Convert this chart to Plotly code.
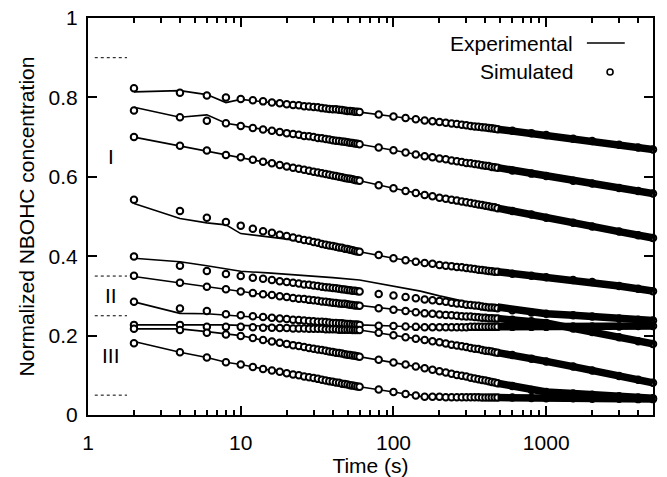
import plotly.graph_objects as go

# ---------------- data ----------------
t_sim = [2, 4, 6, 8, 10, 12, 14, 16, 18, 20, 22, 24, 26, 28, 30, 32, 34, 36, 38, 40,
         42, 44, 46, 48, 50, 52, 54, 56, 58, 60,
         80, 100, 120, 140, 160, 180, 200, 220, 240, 260, 280, 300, 320, 340, 360, 380,
         400, 420, 440, 460, 480,
         600, 800, 1000, 1500, 2000, 3000, 4000, 5000]

sim_A = [.823,.812,.805,.800,.796,.793,.790,.787,.785,.783,.781,.780,.778,.777,.776,.775,.773,.772,.771,.770,
         .770,.769,.768,.767,.766,.766,.765,.764,.764,.763,
         .757,.752,.748,.745,.742,.740,.738,.736,.734,.733,.731,.730,.728,.727,.726,.725,.724,.723,.722,.721,.720,
         .716,.710,.705,.696,.690,.681,.674,.669]
sim_B = [.767,.750,.741,.735,.728,.723,.719,.716,.713,.710,.708,.706,.703,.702,.700,.698,.697,.695,.694,.692,
         .691,.690,.689,.688,.687,.686,.685,.684,.683,.682,
         .674,.667,.661,.656,.652,.649,.646,.644,.641,.639,.637,.635,.634,.632,.631,.629,.628,.627,.625,.624,.623,
         .616,.608,.602,.590,.583,.572,.564,.558]
sim_C = [.700,.678,.666,.655,.649,.643,.638,.634,.630,.626,.623,.620,.618,.615,.613,.611,.609,.607,.605,.603,
         .602,.600,.599,.597,.596,.595,.594,.592,.591,.590,
         .579,.571,.564,.559,.554,.551,.547,.545,.542,.540,.538,.536,.534,.532,.530,.529,.527,.526,.524,.523,.521,
         .514,.505,.497,.484,.475,.462,.453,.446]
sim_D = [.542,.514,.497,.486,.477,.469,.463,.459,.454,.451,.447,.444,.441,.439,.436,.434,.431,.429,.427,.426,
         .424,.422,.421,.419,.418,.416,.415,.413,.412,.411,
         .403,.395,.390,.386,.383,.381,.378,.376,.375,.373,.372,.370,.369,.368,.366,.365,.364,.363,.362,.361,.361,
         .356,.351,.347,.340,.335,.325,.318,.312]
sim_E = [.399,.376,.363,.355,.350,.346,.343,.340,.337,.335,.333,.331,.329,.328,.326,.325,.323,.322,.321,.320,
         .319,.318,.317,.316,.315,.314,.313,.313,.312,.311,
         .305,.301,.297,.294,.291,.289,.287,.285,.283,.281,.280,.278,.277,.276,.275,.273,.272,.271,.271,.270,.269,
         .264,.258,.255,.251,.248,.243,.240,.238]
sim_F = [.351,.333,.323,.317,.311,.307,.304,.302,.299,.297,.295,.293,.292,.290,.289,.288,.286,.285,.284,.283,
         .282,.281,.280,.280,.279,.278,.277,.276,.276,.275,
         .269,.265,.262,.259,.256,.255,.253,.252,.251,.250,.249,.248,.248,.247,.246,.245,.245,.244,.244,.243,.243,
         .240,.236,.232,.218,.209,.196,.186,.179]
sim_G = [.285,.268,.262,.254,.251,.249,.247,.245,.243,.242,.240,.239,.238,.237,.236,.235,.235,.234,.233,.232,
         .232,.231,.231,.230,.229,.229,.228,.228,.228,.227,
         .225,.224,.223,.222,.221,.221,.221,.221,.221,.221,.221,.221,.222,.222,.222,.222,.222,.222,.222,.222,.222,
         .222,.222,.222,.223,.223,.223,.224,.224]
sim_H = [.227,.227,.222,.222,.222,.221,.220,.220,.219,.219,.218,.218,.218,.217,.217,.217,.217,.216,.216,.216,
         .216,.215,.215,.215,.215,.215,.214,.214,.214,.214,
         .207,.201,.196,.192,.189,.186,.183,.180,.177,.175,.173,.171,.169,.167,.166,.164,.162,.161,.160,.158,.157,
         .151,.142,.135,.122,.112,.098,.089,.081]
sim_I = [.217,.214,.207,.203,.199,.194,.189,.185,.182,.179,.176,.174,.171,.169,.167,.165,.164,.162,.160,.159,
         .157,.156,.155,.153,.152,.151,.150,.149,.148,.147,
         .139,.132,.127,.122,.118,.114,.110,.107,.104,.101,.099,.097,.094,.092,.090,.088,.087,.085,.083,.082,.080,
         .073,.063,.058,.054,.051,.047,.044,.042]
sim_J = [.181,.158,.145,.133,.127,.121,.116,.112,.109,.105,.102,.100,.097,.095,.093,.091,.089,.087,.085,.084,
         .082,.081,.079,.078,.077,.075,.074,.073,.072,.071,
         .064,.058,.053,.049,.046,.046,.046,.045,.045,.045,.045,.045,.045,.045,.045,.044,.044,.044,.044,.044,.044,
         .044,.043,.042,.042,.041,.041,.040,.040]

t_exp = [2, 4, 6, 8, 10, 15, 20, 30, 40, 60, 100, 150, 200, 300, 480, 700, 1000, 1500, 2000, 3000, 5000]

exp_A = [.814,.817,.807,.787,.795,.788,.782,.775,.770,.763,.752,.743,.737,.729,.720,.712,.705,.696,.690,.681,.669]
exp_B = [.775,.750,.756,.735,.729,.717,.709,.699,.692,.682,.667,.654,.646,.635,.623,.612,.602,.590,.583,.572,.558]
exp_C = [.700,.678,.665,.656,.648,.635,.626,.612,.603,.590,.571,.556,.547,.536,.521,.510,.497,.484,.475,.462,.446]
exp_D = [.533,.495,.484,.479,.457,.449,.443,.432,.424,.411,.395,.384,.378,.370,.361,.354,.347,.340,.335,.325,.312]
exp_E = [.395,.386,.376,.368,.362,.358,.355,.350,.346,.340,.325,.312,.300,.285,.272,.262,.255,.251,.248,.243,.238]
exp_F = [.349,.333,.323,.317,.311,.302,.297,.289,.283,.275,.265,.257,.253,.248,.243,.238,.232,.218,.209,.196,.179]
exp_G = [.285,.256,.255,.252,.250,.244,.241,.236,.232,.227,.224,.221,.221,.221,.222,.222,.222,.223,.223,.223,.224]
exp_H = [.227,.228,.227,.227,.226,.224,.222,.220,.218,.214,.201,.190,.183,.171,.157,.147,.135,.122,.112,.098,.081]
exp_I = [.217,.217,.210,.205,.200,.186,.179,.167,.159,.147,.132,.120,.110,.097,.080,.068,.058,.054,.051,.047,.042]
exp_J = [.185,.158,.145,.133,.127,.113,.105,.093,.084,.071,.058,.047,.046,.045,.044,.044,.042,.042,.041,.041,.040]

sim_series = [sim_A, sim_B, sim_C, sim_D, sim_E, sim_F, sim_G, sim_H, sim_I, sim_J]
exp_series = [exp_A, exp_B, exp_C, exp_D, exp_E, exp_F, exp_G, exp_H, exp_I, exp_J]

x_major = [1, 10, 100, 1000]
x_minor = [2, 3, 4, 5, 6, 7, 8, 9, 20, 30, 40, 50, 60, 70, 80, 90,
           200, 300, 400, 500, 600, 700, 800, 900, 2000, 3000, 4000]
y_ticks = [0, 0.2, 0.4, 0.6, 0.8, 1]
y_ticktext = ["0", "0.2", "0.4", "0.6", "0.8", "1"]
group_labels = ["I", "II", "III"]
group_label_y = [0.65, 0.30, 0.15]
group_bounds = [0.9, 0.35, 0.25, 0.05]

# ---------------- figure ----------------
FONT = "Liberation Sans, Arial, Helvetica, sans-serif"
SPLIT = 480          # experimental noise band begins here
XR = [0, 3.699]      # log10 range of the time axis

fig = go.Figure()

for ys in exp_series:
    xs = [t for t in t_exp if t <= SPLIT]
    fig.add_trace(go.Scatter(x=xs, y=ys[:len(xs)], mode="lines",
                             line=dict(color="black", width=1.6),
                             hoverinfo="skip", showlegend=False))

for ys in sim_series:
    fig.add_trace(go.Scatter(x=t_sim, y=ys, mode="markers",
                             marker=dict(symbol="circle", size=6.5, color="white",
                                         line=dict(color="black", width=2)),
                             cliponaxis=False, hoverinfo="skip", showlegend=False))

for ys in exp_series:
    idx = [i for i, t in enumerate(t_exp) if t >= SPLIT]
    fig.add_trace(go.Scatter(x=[t_exp[i] for i in idx], y=[ys[i] for i in idx], mode="lines",
                             line=dict(color="black", width=7.5),
                             hoverinfo="skip", showlegend=False))

shapes = []
for yb in group_bounds:
    shapes.append(dict(type="line", xref="paper", yref="y", x0=0.012, x1=0.069, y0=yb, y1=yb,
                       line=dict(color="black", width=1, dash="dot")))
shapes.append(dict(type="line", xref="paper", yref="paper", x0=0.883, x1=0.950, y0=0.937, y1=0.937,
                   line=dict(color="black", width=1.6)))
shapes.append(dict(type="circle", xref="paper", yref="paper", xsizemode="pixel", ysizemode="pixel",
                   xanchor=0.924, yanchor=0.864, x0=-3, x1=3, y0=-3, y1=3,
                   line=dict(color="black", width=1.6), fillcolor="white"))

annotations = []
for lab, yl in zip(group_labels, group_label_y):
    annotations.append(dict(text=lab, xref="paper", yref="y", x=0.041, y=yl, showarrow=False,
                            xanchor="center", yanchor="middle",
                            font=dict(family=FONT, size=21, color="black")))
annotations.append(dict(text="Experimental", xref="paper", yref="paper", x=0.862, y=0.935,
                        xanchor="right", yanchor="middle", showarrow=False,
                        font=dict(family=FONT, size=21, color="black")))
annotations.append(dict(text="Simulated", xref="paper", yref="paper", x=0.862, y=0.864,
                        xanchor="right", yanchor="middle", showarrow=False,
                        font=dict(family=FONT, size=21, color="black")))

fig.update_layout(
    width=667, height=477,
    margin=dict(l=88, r=14, t=18, b=62, pad=0),
    paper_bgcolor="white", plot_bgcolor="white",
    font=dict(family=FONT, size=21, color="black"),
    shapes=shapes, annotations=annotations,
    showlegend=False,
    xaxis=dict(type="log", range=XR, automargin=False,
               tickmode="array", tickvals=x_major, ticktext=[str(v) for v in x_major],
               ticks="inside", ticklen=9, tickwidth=1.5, tickcolor="black",
               minor=dict(tickmode="array", tickvals=x_minor, ticks="inside", ticklen=5,
                          tickwidth=1.5, tickcolor="black", showgrid=False),
               showline=True, linecolor="black", linewidth=2, mirror="ticks",
               showgrid=False, zeroline=False,
               ticklabelstandoff=8, ticklabeloverflow="allow",
               tickfont=dict(family=FONT, size=21),
               title=dict(text="Time (s)", font=dict(family=FONT, size=21), standoff=4)),
    yaxis=dict(range=[0, 1], automargin=False, tickmode="array", tickvals=y_ticks, ticktext=y_ticktext,
               ticks="inside", ticklen=9, tickwidth=1.5, tickcolor="black",
               showline=True, linecolor="black", linewidth=2, mirror="ticks",
               showgrid=False, zeroline=False,
               ticklabelstandoff=4, ticklabeloverflow="allow",
               tickfont=dict(family=FONT, size=21),
               title=dict(text="Normalized NBOHC concentration", font=dict(family=FONT, size=21),
                          standoff=8)),
)

fig.write_html("out.html", config={"displayModeBar": False},
               post_script="document.body.style.margin='0px';")
